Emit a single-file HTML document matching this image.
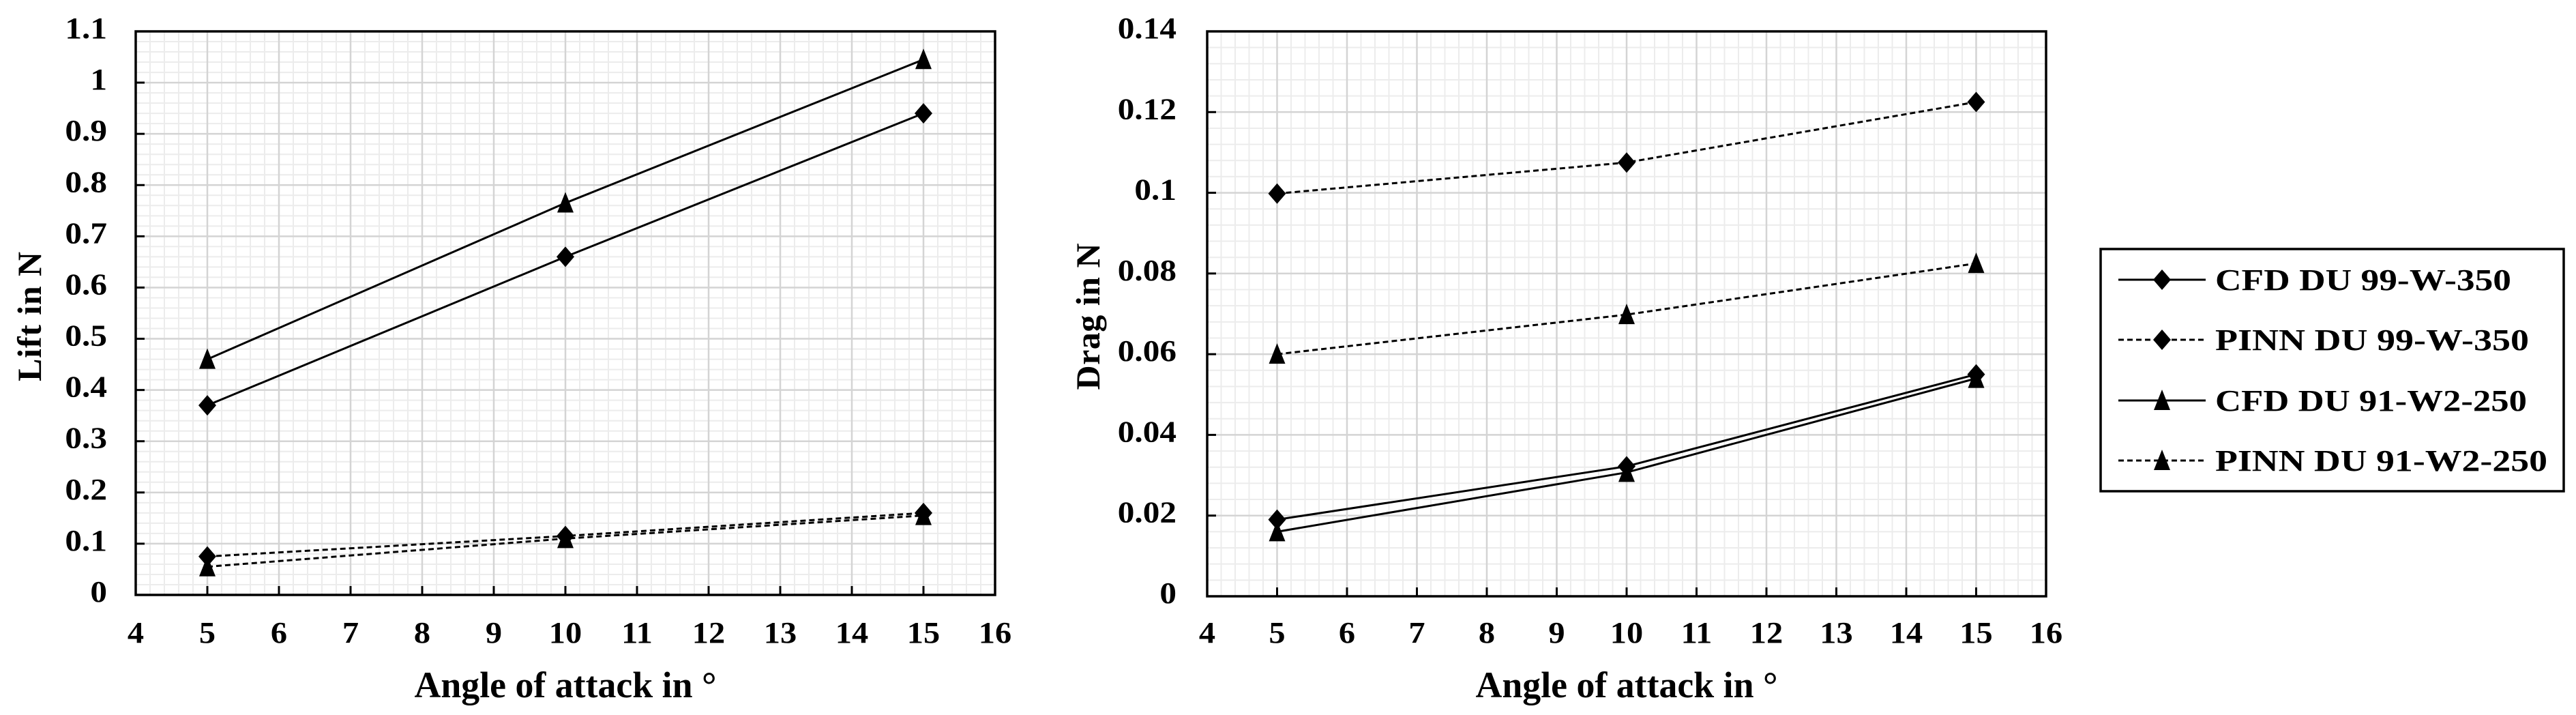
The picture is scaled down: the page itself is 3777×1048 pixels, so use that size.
<!DOCTYPE html>
<html><head><meta charset="utf-8"><style>
html,body{margin:0;padding:0;background:#fff;}
svg{display:block;font-family:"Liberation Serif",serif;font-weight:bold;}
</style></head><body>
<svg id="fig" width="3777" height="1048" viewBox="0 0 3777 1048" xmlns="http://www.w3.org/2000/svg"></svg>
<script>
const angles = [5, 10, 15];
const liftCfd99 = [0.37, 0.66, 0.94];
const liftPinn99 = [0.075, 0.115, 0.16];
const liftCfd91 = [0.46, 0.765, 1.045];
const liftPinn91 = [0.055, 0.11, 0.155];
const dragCfd99 = [0.019, 0.0322, 0.055];
const dragPinn99 = [0.0998, 0.1075, 0.1225];
const dragCfd91 = [0.016, 0.0307, 0.054];
const dragPinn91 = [0.060, 0.0698, 0.0825];
const xTicks = [4,5,6,7,8,9,10,11,12,13,14,15,16];
const liftTicks = ["0","0.1","0.2","0.3","0.4","0.5","0.6","0.7","0.8","0.9","1","1.1"];
const dragTicks = ["0","0.02","0.04","0.06","0.08","0.1","0.12","0.14"];
const seriesNames = ["CFD DU 99-W-350","PINN DU 99-W-350","CFD DU 91-W2-250","PINN DU 91-W2-250"];

const NS="http://www.w3.org/2000/svg";
const svg=document.getElementById('fig');
function mk(tag,attrs,parent){const e=document.createElementNS(NS,tag);for(const k in attrs)e.setAttribute(k,attrs[k]);(parent||svg).appendChild(e);return e;}

function marker(g,type,x,y){
  let m;
  if(type==='d'){m=mk('polygon',{points:`${x},${y-15} ${x+13},${y} ${x},${y+15} ${x-13},${y}`,fill:'#000'},g);}
  else{m=mk('polygon',{points:`${x},${y-16} ${x+12},${y+14} ${x-12},${y+14}`,fill:'#000'},g);}
  
  
}

function chart(opt){
  const {L,R,T,B,ymax,yticks,ymajor,series,ytitle,ytitleX,ytitleLen,labelRight,name}=opt;
  const g=mk('g',{});
  
  
  const xs=v=>L+(v-4)/12*(R-L);
  const ys=v=>B-v/ymax*(B-T);
  for(let i=0;i<=60;i++){const x=xs(4+i/5);mk('line',{x1:x,x2:x,y1:T,y2:B,stroke:'#ececec','stroke-width':2},g);}
  const nmaj=yticks.length-1;
  for(let i=0;i<=nmaj*5;i++){const y=ys(i*ymajor/5);mk('line',{x1:L,x2:R,y1:y,y2:y,stroke:'#ececec','stroke-width':2},g);}
  xTicks.forEach(t=>{const x=xs(t);mk('line',{x1:x,x2:x,y1:T,y2:B,stroke:'#d4d4d4','stroke-width':2.5},g);});
  yticks.forEach((t,i)=>{const y=ys(i*ymajor);mk('line',{x1:L,x2:R,y1:y,y2:y,stroke:'#d4d4d4','stroke-width':2.5},g);});
  xTicks.forEach(t=>{const x=xs(t);mk('line',{x1:x,x2:x,y1:B,y2:B-13,stroke:'#000','stroke-width':3},g);
    const tx=mk('text',{x:0,y:0,'font-size':44,'text-anchor':'middle',transform:`translate(${x} ${942}) scale(1.1 1)`},g);tx.textContent=t;
    
    });
  yticks.forEach((t,i)=>{const y=ys(i*ymajor);mk('line',{x1:L,x2:L+13,y1:y,y2:y,stroke:'#000','stroke-width':3},g);
    const tx=mk('text',{x:0,y:0,'font-size':44,'text-anchor':'end',transform:`translate(${labelRight} ${y+10}) scale(1.12 1)`},g);tx.textContent=t;
    
    });
  const fr=mk('rect',{x:L,y:T,width:R-L,height:B-T,fill:'none',stroke:'#000','stroke-width':3.5},g);
  
  
  series.forEach(s=>{
    const pts=angles.map((a,i)=>`${xs(a)},${ys(s.v[i])}`).join(' ');
    const pl=mk('polyline',{points:pts,fill:'none',stroke:'#000','stroke-width':3,'stroke-dasharray':s.dash?'8 5':'none'},g);
    
    
    angles.forEach((a,i)=>marker(g,s.m,xs(a),ys(s.v[i])));
  });
  const xt=mk('text',{x:(L+R)/2,y:1022,'font-size':54,'text-anchor':'middle',textLength:443,lengthAdjust:'spacingAndGlyphs'},g);xt.textContent='Angle of attack in °';
  
  
  const cy=464;
  const yt=mk('text',{x:ytitleX,y:cy,'font-size':50,'text-anchor':'middle',textLength:ytitleLen,lengthAdjust:'spacing',transform:`rotate(-90 ${ytitleX} ${cy})`},g);yt.textContent=ytitle;
  
  
}

chart({name:'lift-chart',L:199,R:1459,T:46,B:872,ymax:1.1,yticks:liftTicks,ymajor:0.1,ytitle:'Lift in N',ytitleX:60,ytitleLen:190,labelRight:157,
  series:[{id:'cfd-du99',v:liftCfd99,m:'d',dash:false},{id:'pinn-du99',v:liftPinn99,m:'d',dash:true},{id:'cfd-du91',v:liftCfd91,m:'t',dash:false},{id:'pinn-du91',v:liftPinn91,m:'t',dash:true}]});
chart({name:'drag-chart',L:1770,R:3000,T:46,B:874,ymax:0.14,yticks:dragTicks,ymajor:0.02,ytitle:'Drag in N',ytitleX:1612,ytitleLen:215,labelRight:1725,
  series:[{id:'cfd-du99',v:dragCfd99,m:'d',dash:false},{id:'pinn-du99',v:dragPinn99,m:'d',dash:true},{id:'cfd-du91',v:dragCfd91,m:'t',dash:false},{id:'pinn-du91',v:dragPinn91,m:'t',dash:true}]});

const lg=mk('g',{});


mk('rect',{x:3080,y:365,width:679,height:355,fill:'#fff',stroke:'#000','stroke-width':3.5},lg);
const rowsY=[410,498,587,675];
const mtypes=['d','d','t','t'];
const dashes=[false,true,false,true];
const lens=[434,460,457,487];
seriesNames.forEach((n,i)=>{
  const e=mk('g',{},lg);
  
  
  mk('line',{x1:3106,x2:3234,y1:rowsY[i],y2:rowsY[i],stroke:'#000','stroke-width':3,'stroke-dasharray':dashes[i]?'8 5':'none'},e);
  marker(e,mtypes[i],3170,rowsY[i]);
  const t=mk('text',{x:3248,y:rowsY[i]+15,'font-size':44,textLength:lens[i],lengthAdjust:'spacingAndGlyphs'},e);t.textContent=n;
  
  
});
</script>
</body></html>
